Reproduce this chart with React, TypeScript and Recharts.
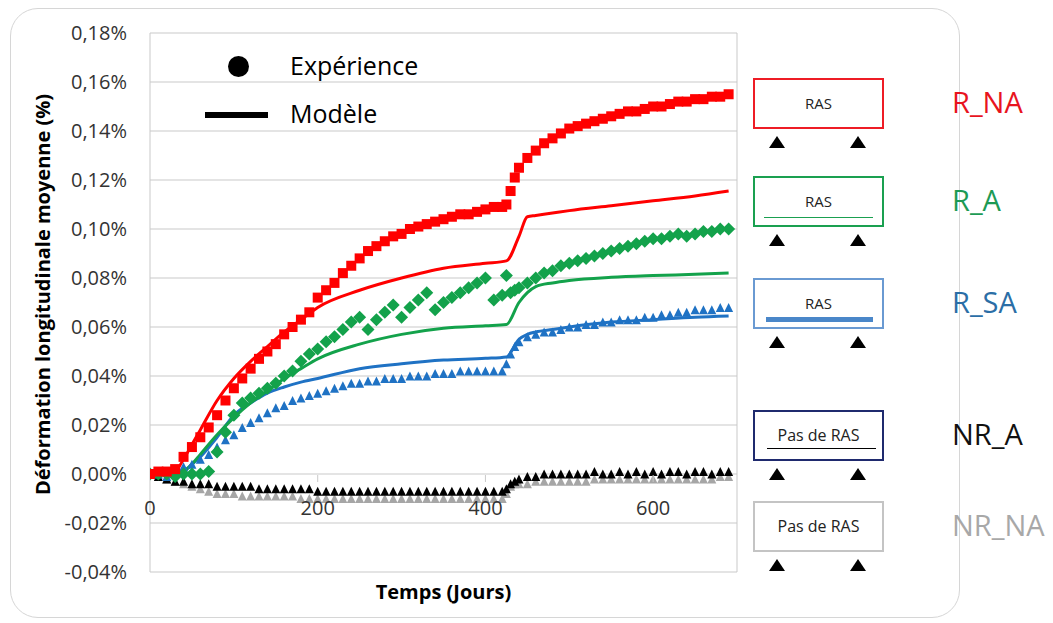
import React from "react";
import { ComposedChart, Scatter, Line, XAxis, YAxis, CartesianGrid, ReferenceLine } from "recharts";

// days of the measurements (experiment)
const EXP_DAYS = [
  0, 10, 20, 30, 40, 50, 60, 70, 80, 90,
  100, 110, 120, 130, 140, 150, 160, 170, 180, 190,
  200, 210, 220, 230, 240, 250, 260, 270, 280, 290,
  300, 310, 320, 330, 340, 350, 360, 370, 380, 390,
  400, 410, 420, 425, 430, 435, 440,
  450, 460, 470, 480, 490, 500, 510, 520, 530, 540,
  550, 560, 570, 580, 590, 600, 610, 620, 630, 640,
  650, 660, 670, 680, 690,
];

const R_NA_EXP = [
  0.000, 0.001, 0.001, 0.002, 0.007, 0.011, 0.015, 0.019, 0.024, 0.030,
  0.035, 0.039, 0.043, 0.047, 0.050, 0.053, 0.057, 0.060, 0.063, 0.066,
  0.072, 0.075, 0.078, 0.082, 0.085, 0.088, 0.091, 0.093, 0.095, 0.097,
  0.098, 0.100, 0.101, 0.102, 0.103, 0.104, 0.105, 0.106, 0.106, 0.107,
  0.108, 0.109, 0.109, 0.110, 0.1155, 0.121, 0.125,
  0.129, 0.132, 0.135, 0.137, 0.139, 0.141, 0.142, 0.143, 0.144, 0.145,
  0.146, 0.147, 0.148, 0.148, 0.149, 0.150, 0.150, 0.151, 0.152, 0.152,
  0.153, 0.153, 0.154, 0.154, 0.155,
];

const R_A_EXP = [
  0.000, 0.000, 0.000, -0.001, 0.000, 0.000, 0.000, 0.001, 0.009, 0.017,
  0.024, 0.029, 0.031, 0.033, 0.035, 0.037, 0.040, 0.042, 0.046, 0.049,
  0.051, 0.054, 0.056, 0.059, 0.062, 0.064, 0.059, 0.063, 0.066, 0.069,
  0.064, 0.068, 0.071, 0.074, 0.067, 0.070, 0.072, 0.074, 0.076, 0.078,
  0.080, 0.071, 0.073, 0.081, 0.074, 0.075, 0.076,
  0.078, 0.080, 0.082, 0.083, 0.085, 0.086, 0.087, 0.088, 0.089, 0.090,
  0.091, 0.092, 0.093, 0.094, 0.095, 0.096, 0.096, 0.097, 0.098, 0.097,
  0.098, 0.099, 0.099, 0.100, 0.100,
];

const R_SA_EXP = [
  0.000, 0.000, -0.001, 0.001, 0.003, 0.004, 0.006, 0.008, 0.011, 0.014,
  0.016, 0.019, 0.021, 0.023, 0.025, 0.027, 0.028, 0.030, 0.031, 0.032,
  0.033, 0.034, 0.035, 0.036, 0.037, 0.037, 0.038, 0.038, 0.039, 0.039,
  0.039, 0.040, 0.040, 0.040, 0.041, 0.041, 0.041, 0.042, 0.042, 0.042,
  0.042, 0.042, 0.042, 0.045, 0.049, 0.052, 0.054,
  0.056, 0.057, 0.058, 0.058, 0.059, 0.060, 0.060, 0.061, 0.061, 0.062,
  0.062, 0.063, 0.063, 0.063, 0.064, 0.064, 0.065, 0.065, 0.066, 0.066,
  0.067, 0.067, 0.067, 0.068, 0.068,
];

const NR_A_EXP = [
  0.000, -0.001, -0.002, -0.003, -0.003, -0.004, -0.004, -0.004, -0.005, -0.005,
  -0.005, -0.005, -0.005, -0.006, -0.006, -0.006, -0.006, -0.006, -0.006, -0.006,
  -0.007, -0.007, -0.007, -0.007, -0.007, -0.007, -0.007, -0.007, -0.007, -0.007,
  -0.007, -0.007, -0.007, -0.007, -0.007, -0.007, -0.007, -0.007, -0.007, -0.007,
  -0.007, -0.007, -0.007, -0.006, -0.004, -0.003, -0.002,
  -0.001, -0.001, 0.000, 0.000, 0.000, 0.000, 0.000, 0.000, 0.001, 0.000,
  0.000, 0.001, 0.000, 0.001, 0.000, 0.001, 0.000, 0.001, 0.001, 0.000,
  0.001, 0.001, 0.000, 0.001, 0.001,
];

const NR_NA_EXP = [
  0.000, -0.001, -0.002, -0.003, -0.004, -0.005, -0.006, -0.007, -0.008, -0.008,
  -0.008, -0.009, -0.009, -0.009, -0.009, -0.009, -0.009, -0.009, -0.010, -0.010,
  -0.010, -0.010, -0.010, -0.010, -0.010, -0.010, -0.010, -0.010, -0.010, -0.010,
  -0.010, -0.010, -0.010, -0.010, -0.010, -0.010, -0.010, -0.010, -0.010, -0.010,
  -0.010, -0.010, -0.010, -0.008, -0.005, -0.004, -0.004,
  -0.004, -0.003, -0.003, -0.003, -0.003, -0.003, -0.003, -0.003, -0.002, -0.002,
  -0.002, -0.002, -0.002, -0.002, -0.002, -0.002, -0.002, -0.002, -0.002, -0.002,
  -0.002, -0.002, -0.002, -0.001, -0.001,
];

// model curves
const MODEL_DAYS = [0, 20, 30, 40, 50, 60, 80, 100, 120, 140, 160, 180, 200, 250, 300, 350, 400, 425, 440, 450, 460, 480, 500, 550, 600, 650, 690];
const R_NA_MODEL = [0, 0, 0.001, 0.006, 0.012, 0.018, 0.030, 0.039, 0.046, 0.052, 0.058, 0.063, 0.068, 0.075, 0.080, 0.084, 0.086, 0.087, 0.097, 0.105, 0.1055, 0.1065, 0.1075, 0.1095, 0.1115, 0.1135, 0.1155];
const R_A_MODEL = [0, 0, 0, 0.001, 0.004, 0.008, 0.016, 0.023, 0.029, 0.034, 0.039, 0.043, 0.047, 0.053, 0.057, 0.0595, 0.0605, 0.061, 0.070, 0.074, 0.0765, 0.078, 0.079, 0.0803, 0.081, 0.0815, 0.082];
const R_SA_MODEL = [0, 0, 0, 0.001, 0.004, 0.007, 0.015, 0.024, 0.029, 0.033, 0.0355, 0.0375, 0.039, 0.043, 0.045, 0.0465, 0.0472, 0.0478, 0.055, 0.057, 0.058, 0.059, 0.060, 0.062, 0.063, 0.064, 0.0645];

const Y_TICKS = [-0.04, -0.02, 0, 0.02, 0.04, 0.06, 0.08, 0.1, 0.12, 0.14, 0.16, 0.18];
const X_TICKS = [0, 200, 400, 600];

const RED = "#ff0000";
const GREEN = "#13a24b";
const BLUE = "#1f72c4";
const GRAY = "#a6a6a6";
const GRID = "#c9c9c9";
const FONT = '"Open Sans", "Liberation Sans", sans-serif';

const pts = (days: number[], vals: number[]) => days.map((d, i) => ({ x: d, y: vals[i] }));

const square = (color: string, s: number) => (p: any) =>
  <rect x={p.cx - s / 2} y={p.cy - s / 2} width={s} height={s} fill={color} />;
const diamond = (color: string, s: number) => (p: any) =>
  <polygon points={`${p.cx},${p.cy - s / 2} ${p.cx + s / 2},${p.cy} ${p.cx},${p.cy + s / 2} ${p.cx - s / 2},${p.cy}`} fill={color} />;
const triangle = (color: string, s: number) => (p: any) =>
  <polygon points={`${p.cx},${p.cy - s / 2} ${p.cx + s / 2},${p.cy + s / 2} ${p.cx - s / 2},${p.cy + s / 2}`} fill={color} />;

const fmtPct = (v: number) => v.toFixed(2).replace(".", ",") + "%";

// x tick labels sit under the zero line, not at the bottom of the plot
const XTick = (p: any) => (
  <g>
    {p.payload.value !== 0 && <line x1={p.x} x2={p.x} y1={p.y - 105} y2={p.y - 98} stroke={GRID} />}
    <text x={p.x} y={p.y - 73} textAnchor="middle" dominantBaseline="central" fontSize={20} fill="#333" fontFamily={FONT}>
      {p.payload.value}
    </text>
  </g>
);

const YTitle = (p: any) => {
  const cx = 42;
  const cy = p.viewBox.y + p.viewBox.height / 2 - 8;
  return (
    <text x={cx} y={cy} transform={`rotate(-90, ${cx}, ${cy})`} textAnchor="middle" dominantBaseline="central"
      fontSize={20} fontWeight="bold" fill="#000" fontFamily={FONT}>
      Déformation longitudinale moyenne (%)
    </text>
  );
};

function Specimen({ top, border, text, inner, label, labelColor }: any) {
  return (
    <>
      <div style={{ position: "absolute", left: 753, top, width: 131, height: 51, boxSizing: "border-box", border: `2px solid ${border}`, background: "#fff" }}>
        <div style={{ position: "absolute", left: 0, right: 0, top: 13, textAlign: "center", fontSize: text === "RAS" ? 15 : 16, color: "#222", lineHeight: "20px" }}>{text}</div>
        {inner === "thin" && <div style={{ position: "absolute", left: 9, right: 9, top: 39, height: 1, background: border }} />}
        {inner === "thick" && <div style={{ position: "absolute", left: 11, right: 9, top: 37, height: 5, background: "#4a87c9" }} />}
        {inner === "black" && <div style={{ position: "absolute", left: 12, right: 6, top: 36, height: 1, background: "#000" }} />}
      </div>
      {[777, 858].map((cx) => (
        <div key={cx} style={{ position: "absolute", left: cx - 8, top: top + 58, width: 0, height: 0, borderLeft: "8px solid transparent", borderRight: "8px solid transparent", borderBottom: "12px solid #000" }} />
      ))}
      <div style={{ position: "absolute", left: 952, top: top + 4, fontSize: 29, lineHeight: "40px", color: labelColor }}>{label}</div>
    </>
  );
}

export default function App() {
  return (
    <div style={{ position: "absolute", left: 0, top: 0, width: 1053, height: 623, background: "#fff", fontFamily: FONT, overflow: "hidden" }}>
      <div style={{ position: "absolute", left: 10, top: 8, width: 950, height: 610, boxSizing: "border-box", border: "1.5px solid #d6d6d6", borderRadius: 28 }} />
      <div style={{ position: "absolute", left: 0, top: 0 }}>
        <ComposedChart width={760} height={623} margin={{ top: 33, right: 23, bottom: 11, left: 0 }}>
          <CartesianGrid vertical={false} stroke={GRID} />
          <XAxis dataKey="x" type="number" domain={[0, 700]} ticks={X_TICKS} height={40} axisLine={false} tickLine={false}
            tick={<XTick />} interval={0} allowDataOverflow
            label={{ value: "Temps (Jours)", position: "insideBottom", offset: 13, fontSize: 20, fontWeight: "bold", fill: "#000", fontFamily: FONT }} />
          <YAxis dataKey="y" type="number" domain={[-0.04, 0.18]} ticks={Y_TICKS} width={150} interval={0}
            axisLine={{ stroke: GRID }} tickLine={false} tickSize={0} tickMargin={23} tickFormatter={fmtPct}
            tick={{ fontSize: 20, fill: "#333", fontFamily: FONT }} label={<YTitle />} allowDataOverflow />
          <ReferenceLine x={700} stroke={GRID} />
          <Scatter data={pts(EXP_DAYS, NR_NA_EXP)} dataKey="y" shape={triangle(GRAY, 9)} isAnimationActive={false} />
          <Scatter data={pts(EXP_DAYS, NR_A_EXP)} dataKey="y" shape={triangle("#000", 9)} isAnimationActive={false} />
          <Scatter data={pts(EXP_DAYS, R_SA_EXP)} dataKey="y" shape={triangle(BLUE, 9)} isAnimationActive={false} />
          <Scatter data={pts(EXP_DAYS, R_A_EXP)} dataKey="y" shape={diamond(GREEN, 13)} isAnimationActive={false} />
          <Scatter data={pts(EXP_DAYS, R_NA_EXP)} dataKey="y" shape={square(RED, 10)} isAnimationActive={false} />
          <Line data={pts(MODEL_DAYS, R_SA_MODEL)} dataKey="y" type="monotone" stroke={BLUE} strokeWidth={3} dot={false} isAnimationActive={false} />
          <Line data={pts(MODEL_DAYS, R_A_MODEL)} dataKey="y" type="monotone" stroke={GREEN} strokeWidth={3} dot={false} isAnimationActive={false} />
          <Line data={pts(MODEL_DAYS, R_NA_MODEL)} dataKey="y" type="monotone" stroke={RED} strokeWidth={3} dot={false} isAnimationActive={false} />
        </ComposedChart>
      </div>

      {/* legend inside the plot */}
      <div style={{ position: "absolute", left: 228, top: 56, width: 21, height: 21, borderRadius: "50%", background: "#000" }} />
      <div style={{ position: "absolute", left: 290, top: 48, fontSize: 25, lineHeight: "34px", color: "#000" }}>Expérience</div>
      <div style={{ position: "absolute", left: 205, top: 112, width: 63, height: 6, background: "#000" }} />
      <div style={{ position: "absolute", left: 290, top: 96, fontSize: 25, lineHeight: "34px", color: "#000" }}>Modèle</div>

      {/* specimen sketches */}
      <Specimen top={78} border="#ee1c25" text="RAS" inner="none" label="R_NA" labelColor="#e8141e" />
      <Specimen top={176} border="#1aa050" text="RAS" inner="thin" label="R_A" labelColor="#1d9a55" />
      <Specimen top={278} border="#6a9ad2" text="RAS" inner="thick" label="R_SA" labelColor="#2b6ea6" />
      <Specimen top={410} border="#1f2a6e" text="Pas de RAS" inner="black" label="NR_A" labelColor="#111" />
      <Specimen top={501} border="#c4c4c4" text="Pas de RAS" inner="none" label="NR_NA" labelColor="#a8a8a8" />
    </div>
  );
}
